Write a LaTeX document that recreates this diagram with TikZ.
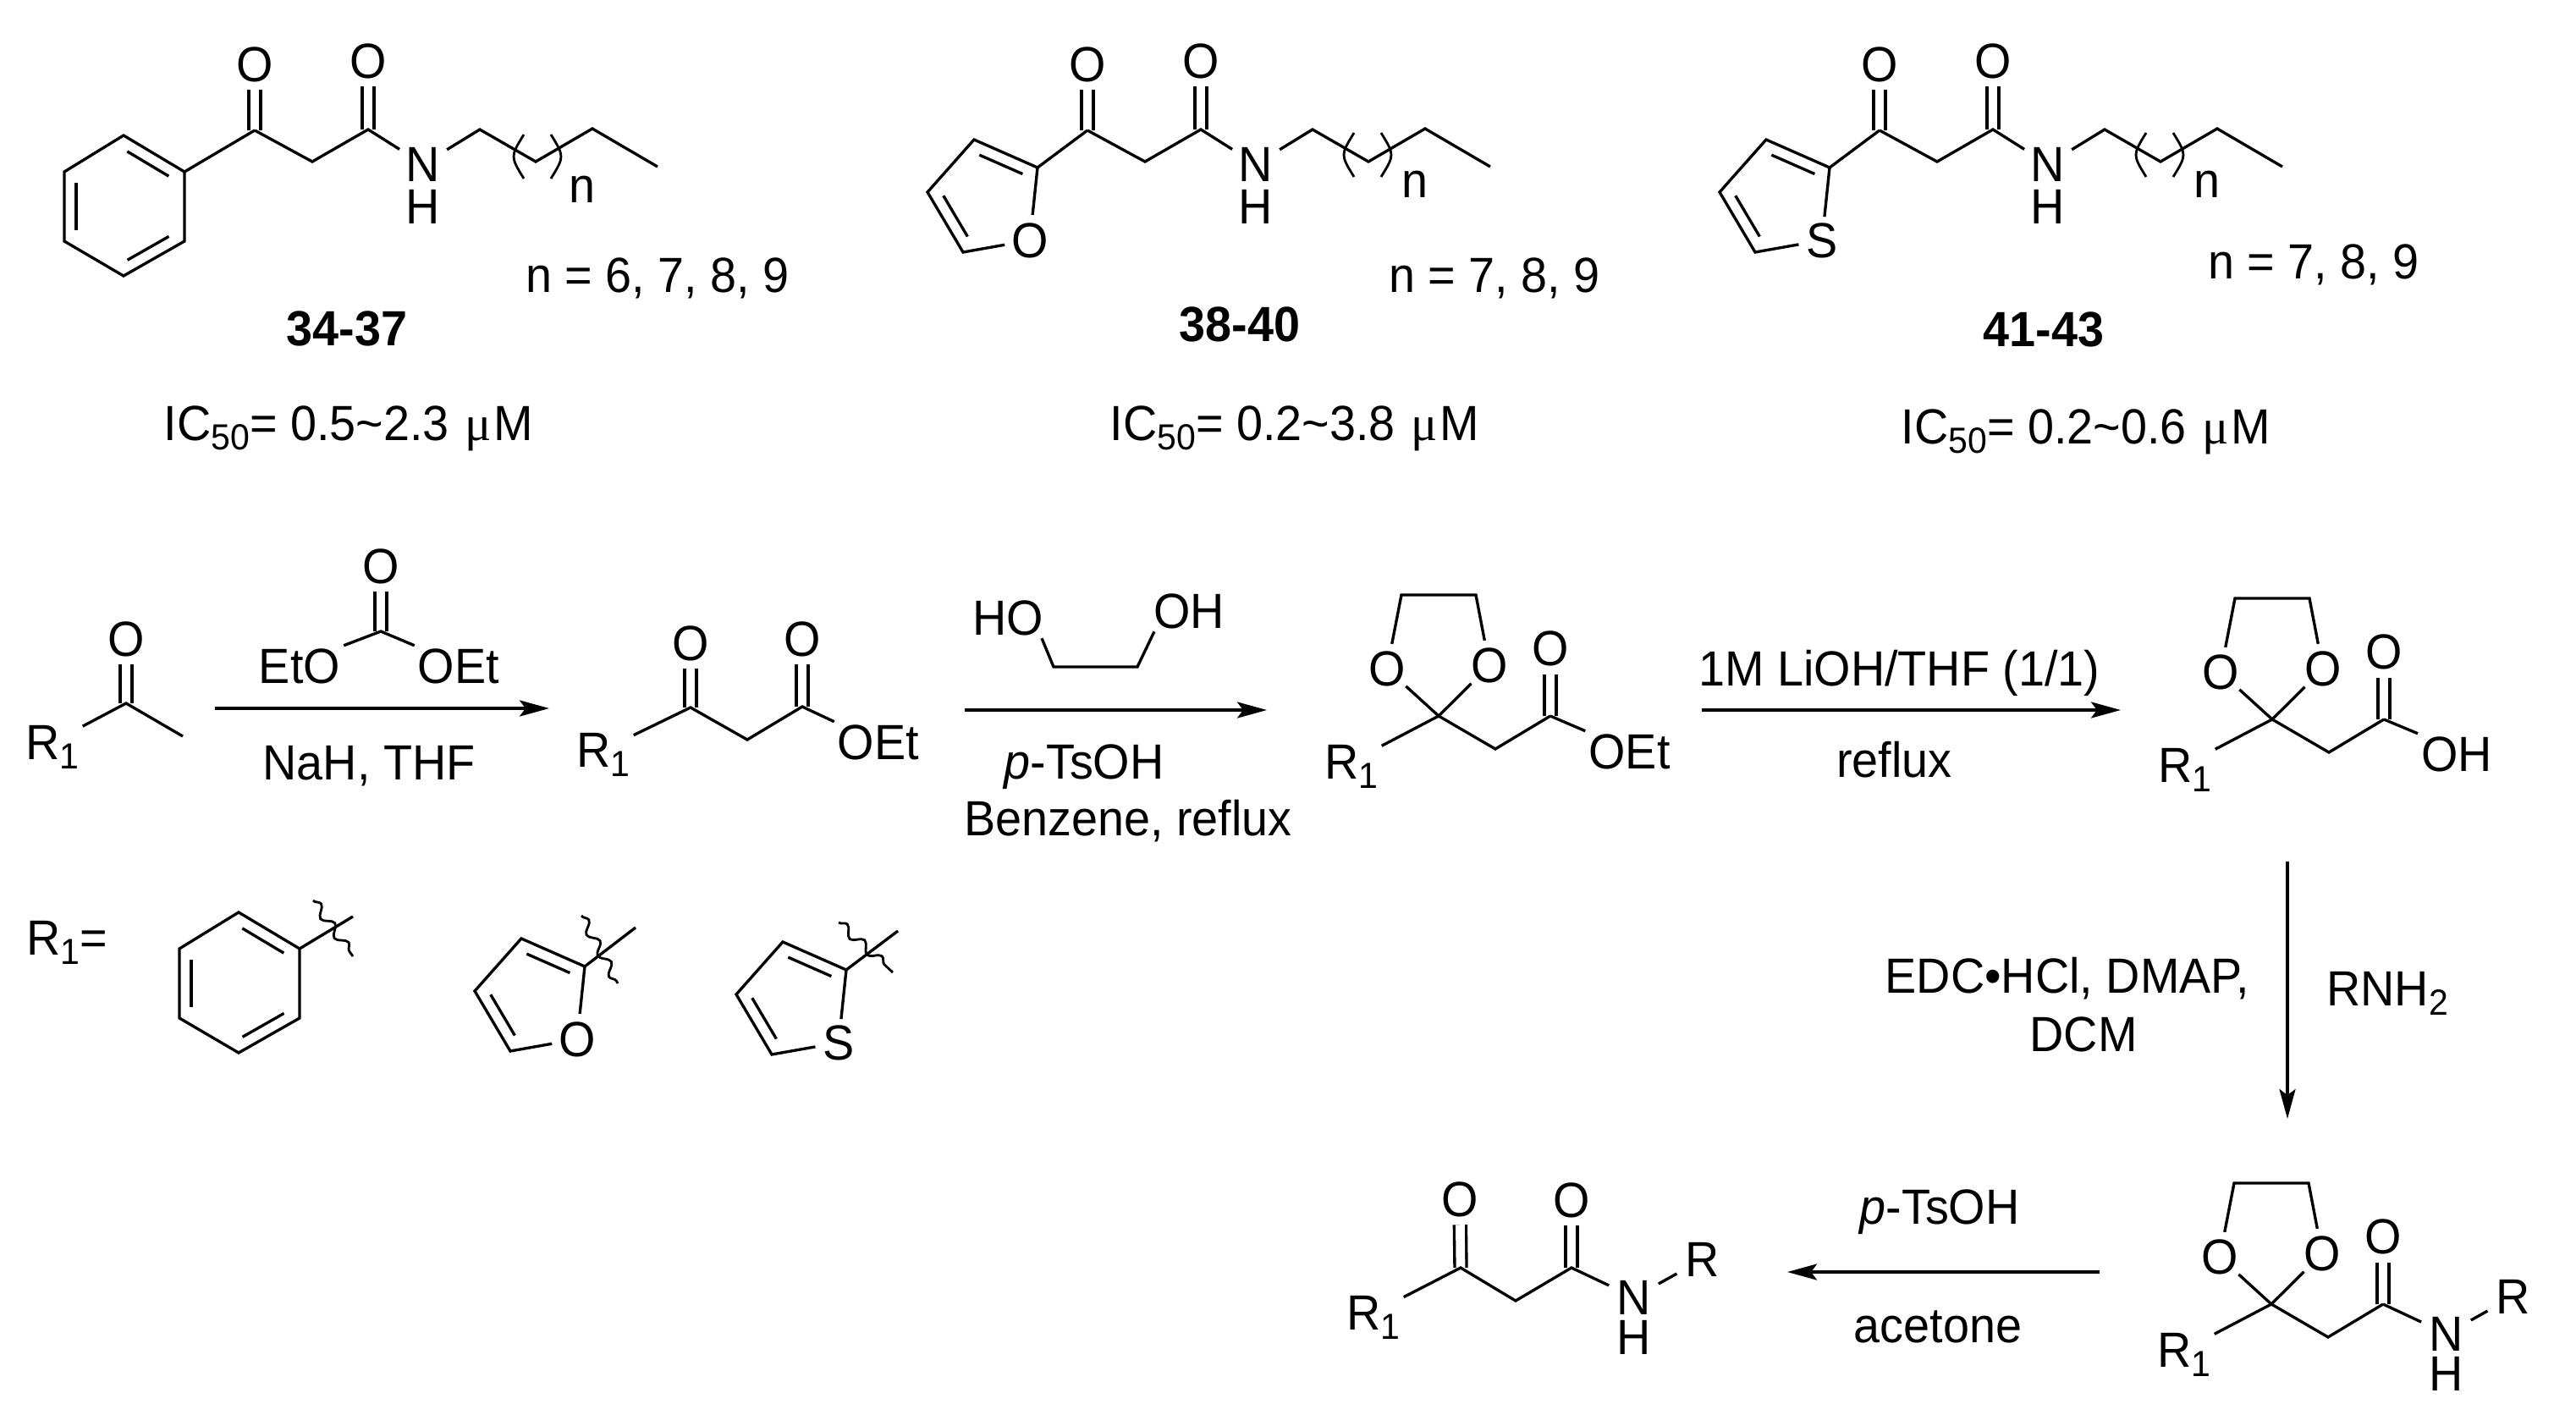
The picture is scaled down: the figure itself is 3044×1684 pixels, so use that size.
\documentclass[tikz,border=0pt]{standalone}
\usepackage{fontspec}
\setmainfont{Liberation Sans}[FakeStretch=.955]
\newfontfamily\mufont{Liberation Serif}
\usetikzlibrary{calc,arrows.meta,decorations.pathmorphing}
\newcommand\chsub[1]{\raisebox{-3.3pt}{\fontsize{12.2}{12}\selectfont #1}}
\newcommand\innerbond[2]{\draw[bond] ($(#1)!.16!(#2)!.14cm!-90:(#2)$) -- ($(#1)!.84!(#2)!.14cm!90:(#1)$);}
\tikzset{
  bond/.style={line width=.95pt,line join=miter},
  dbl/.style={line width=.95pt,double,double distance=3.05pt},
  thin paren/.style={line width=.8pt},
  wavy/.style={line width=.8pt,decorate,decoration={snake,segment length=.28cm,amplitude=.055cm}},
  rxn/.style={line width=1pt,-{Stealth[length=.35cm,width=.19cm,inset=.07cm]}},
  atom/.style={circle,inner sep=0pt,text height=11.4pt,text depth=0pt},
  atomN/.style={atom,inner sep=.8pt},
  atomR/.style={atom,inner sep=1.2pt},
  lab/.style={inner sep=1pt,text height=11.4pt,text depth=0pt},
  boldlab/.style={lab,font=\fontsize{16.6}{18}\selectfont\bfseries},
}
% beta-ketoamide chain with (CH2)n
\newcommand\chainmol[5]{%
  \begin{scope}[shift={(#2,0)},name prefix=#1-]
    \coordinate (k) at (301,154);
    \coordinate (m) at (369,191);
    \coordinate (c) at (435,153);
    \coordinate (v1) at (567,153);
    \coordinate (v2) at (633,191);
    \coordinate (v3) at (700,152);
    \coordinate (v4) at (777,197);
    \node[atom] (kO) at (301,76) {O};
    \node[atom] (cO) at (435,72) {O};
    \node[atomN] (N) at (500,194) {N};
    \node[atom] (H) at (500,244) {H};
    \draw[dbl] (k) -- (kO);
    \draw[dbl] (c) -- (cO);
    \draw[bond] (k) -- (m) -- (c) -- (N) -- (v1) -- (v2) -- (v3) -- (v4);
    \begin{scope}[shift={(#3,#4)}]
      \coordinate (pa) at (616,157);
      \coordinate (pb) at (600,183);
      \coordinate (pc) at (616,209);
      \coordinate (qa) at (648,157);
      \coordinate (qb) at (664,183);
      \coordinate (qc) at (648,209);
      \draw[thin paren] (pa) .. controls (pb) .. (pc);
      \draw[thin paren] (qa) .. controls (qb) .. (qc);
    \end{scope}
    \node[lab] (nn) at (688,#5) {n};
  \end{scope}}
\newcommand\benzenering[3]{%
  \begin{scope}[shift={(#2,#3)},name prefix=#1-]
    \coordinate (a1) at (146,160);
    \coordinate (a2) at (218,203);
    \coordinate (a3) at (218,285);
    \coordinate (a4) at (146,326);
    \coordinate (a5) at (76,285);
    \coordinate (a6) at (76,203);
    \draw[bond] (a1) -- (a2) -- (a3) -- (a4) -- (a5) -- (a6) -- cycle;
    \innerbond{a1}{a2}
    \innerbond{a3}{a4}
    \innerbond{a5}{a6}
  \end{scope}}
\newcommand\fivering[4]{%
  \begin{scope}[shift={(#2,#3)},name prefix=#1-]
    \coordinate (a2) at (1226,198);
    \coordinate (a3) at (1151,165);
    \coordinate (a4) at (1096,227);
    \coordinate (a5) at (1138,298);
    \node[atom] (x) at (1217,284) {#4};
    \draw[bond] (x) -- (a2) -- (a3) -- (a4) -- (a5) -- (x);
    \innerbond{a3}{a2}
    \innerbond{a5}{a4}
  \end{scope}}
\newcommand\ketal[3]{%
  \begin{scope}[shift={(#2,#3)},name prefix=#1-]
    \coordinate (q) at (1700,846);
    \coordinate (t1) at (1656,703);
    \coordinate (t2) at (1744,703);
    \coordinate (m) at (1767,885);
    \coordinate (c) at (1832,846);
    \node[atom] (o1) at (1639,790.5) {O};
    \node[atom] (o2) at (1760,786.5) {O};
    \node[atom] (co) at (1832,766.5) {O};
    \node[lab] (r) at (1597,900) {R\chsub{1}};
    \draw[dbl] (c) -- (co);
    \draw[bond] (o1) -- (t1) -- (t2) -- (o2) -- (q) -- (o1);
    \draw[bond] (r) -- (q) -- (m) -- (c);
  \end{scope}}
\begin{document}
\begin{tikzpicture}[x=.01cm,y=-.01cm,font=\fontsize{16.6}{18}\selectfont]
\useasboundingbox (0,0) rectangle (3044,1684);
%% top row
\chainmol{c1}{0}{3}{2}{219}
\chainmol{c2}{984}{0}{0}{213}
\chainmol{c3}{1920}{0}{0}{213}
\benzenering{b1}{0}{0}
\fivering{f1}{0}{0}{O}
\fivering{t1}{936}{0}{S}
\draw[bond] (b1-a2) -- (c1-k);
\draw[bond] (f1-a2) -- (c2-k);
\draw[bond] (t1-a2) -- (c3-k);
\node[lab] (n1) at (777,325) {n = 6, 7, 8, 9};
\node[lab] (n2) at (1766,325) {n = 7, 8, 9};
\node[lab] (n3) at (2734,309) {n = 7, 8, 9};
\node[boldlab] (l1) at (410,388) {34-37};
\node[boldlab] (l2) at (1465,383) {38-40};
\node[boldlab] (l3) at (2415,389) {41-43};
\node[lab,inner sep=0pt,anchor=base west] (ic1) at (193,520) {IC\chsub{50}= 0.5\textasciitilde2.3 {\mufont\kern1pt μ\kern.8pt}M};
\node[lab,inner sep=0pt,anchor=base west] (ic2) at (1311,520) {IC\chsub{50}= 0.2\textasciitilde3.8 {\mufont\kern1pt μ\kern.8pt}M};
\node[lab,inner sep=0pt,anchor=base west] (ic3) at (2246,524) {IC\chsub{50}= 0.2\textasciitilde0.6 {\mufont\kern1pt μ\kern.8pt}M};
%% methyl ketone
\coordinate (ak) at (149,831);
\coordinate (am) at (216,870);
\node[atom] (ao) at (149,755) {O};
\node[lab] (ar) at (62,877) {R\chsub{1}};
\draw[dbl] (ak) -- (ao);
\draw[bond] (ar) -- (ak) -- (am);
%% diethyl carbonate
\coordinate (dc) at (450,746);
\node[atom] (do) at (450,669) {O};
\node[lab] (deto) at (354,787) {EtO};
\node[lab] (doet) at (542,787) {OEt};
\draw[dbl] (dc) -- (do);
\draw[bond] (deto.north east) -- (dc) -- (doet.north west);
%% arrow 1
\coordinate (a1s) at (254,837);
\coordinate (a1e) at (649,837);
\draw[rxn] (a1s) -- (a1e);
\node[lab] (nah) at (436,901) {NaH, THF};
%% beta-ketoester
\coordinate (ek) at (816,836);
\coordinate (em) at (883,874);
\coordinate (ec) at (948,835);
\node[atom] (eo1) at (816,760) {O};
\node[atom] (eo2) at (948,755) {O};
\node[lab] (er) at (713,886) {R\chsub{1}};
\node[lab] (eoet) at (1038,877) {OEt};
\draw[dbl] (ek) -- (eo1);
\draw[dbl] (ec) -- (eo2);
\draw[bond] (er) -- (ek) -- (em) -- (ec) -- (eoet.north west);
%% ethylene glycol
\node[lab] (ho) at (1191,730) {HO};
\node[lab] (oh) at (1405,722) {OH};
\coordinate (g1) at (1245,788);
\coordinate (g2) at (1344,788);
\draw[bond] ([xshift=-.06cm]ho.south east) -- (g1) -- (g2) -- ([xshift=.05cm]oh.south west);
%% arrow 2
\coordinate (a2s) at (1140,839);
\coordinate (a2e) at (1497,839);
\draw[rxn] (a2s) -- (a2e);
\node[lab] (ts1) at (1281,900) {\textit{p}-TsOH};
\node[lab] (bz) at (1333,967) {Benzene, reflux};
%% ketal ester
\ketal{k1}{0}{0}
\node[lab] (k1oet) at (1925.5,888) {OEt};
\draw[bond] (k1-c) -- (k1oet.north west);
%% arrow 3
\coordinate (a3s) at (2011,839);
\coordinate (a3e) at (2506,839);
\draw[rxn] (a3s) -- (a3e);
\node[lab] (lioh) at (2244.5,790.5) {1M LiOH/THF (1/1)};
\node[lab] (rfx) at (2238.5,898) {reflux};
%% ketal acid
\ketal{k2}{985}{4}
\node[lab] (k2oh) at (2903,891) {OH};
\draw[bond] (k2-c) -- (k2oh.north west);
%% R1 =
\node[lab] (req) at (79.5,1108) {R\chsub{1}=};
\benzenering{b2}{136}{918}
\fivering{f2}{-535}{944}{O}
\fivering{t2}{-226}{948}{S}
\coordinate (s1) at (417,1083);
\coordinate (s2) at (751,1096);
\coordinate (s3) at (1061,1100);
\draw[bond] (b2-a2) -- (s1);
\draw[bond] (f2-a2) -- (s2);
\draw[bond] (t2-a2) -- (s3);
\coordinate (w1a) at (370,1064);
\coordinate (w1b) at (417,1130);
\coordinate (w2a) at (687,1082);
\coordinate (w2b) at (730,1162);
\coordinate (w3a) at (991,1090);
\coordinate (w3b) at (1055,1149);
\draw[wavy] (w1a) -- (w1b);
\draw[wavy] (w2a) -- (w2b);
\draw[wavy] (w3a) -- (w3b);
%% arrow 4
\coordinate (a4s) at (2703,1018);
\coordinate (a4e) at (2703,1322);
\draw[rxn] (a4s) -- (a4e);
\node[lab] (edc) at (2443,1153) {EDC•HCl, DMAP,};
\node[lab] (dcm) at (2462,1222) {DCM};
\node[lab] (rnh) at (2821,1168) {RNH\chsub{2}};
%% ketal amide
\ketal{k3}{984}{695}
\node[atomN] (k3n) at (2891,1576) {N};
\node[atom] (k3h) at (2891,1623) {H};
\node[atomR] (k3r) at (2970,1532) {R};
\draw[bond] (k3-c) -- (k3n) -- (k3r);
%% arrow 5
\coordinate (a5s) at (2481,1503);
\coordinate (a5e) at (2112,1503);
\draw[rxn] (a5s) -- (a5e);
\node[lab] (ts2) at (2292,1426) {\textit{p}-TsOH};
\node[lab] (ace) at (2290,1566) {acetone};
%% product
\coordinate (pk) at (1726,1498);
\coordinate (pm) at (1791,1537);
\coordinate (pc) at (1857,1498);
\node[atom] (po1) at (1725,1417) {O};
\node[atom] (po2) at (1857,1418) {O};
\node[lab] (pr) at (1623,1551) {R\chsub{1}};
\node[atomN] (pn) at (1931,1533) {N};
\node[atom] (ph) at (1931,1580) {H};
\node[atomR] (prr) at (2012,1488) {R};
\draw[dbl] (pk) -- (po1);
\draw[dbl] (pc) -- (po2);
\draw[bond] (pr) -- (pk) -- (pm) -- (pc) -- (pn) -- (prr);
\end{tikzpicture}
\end{document}
